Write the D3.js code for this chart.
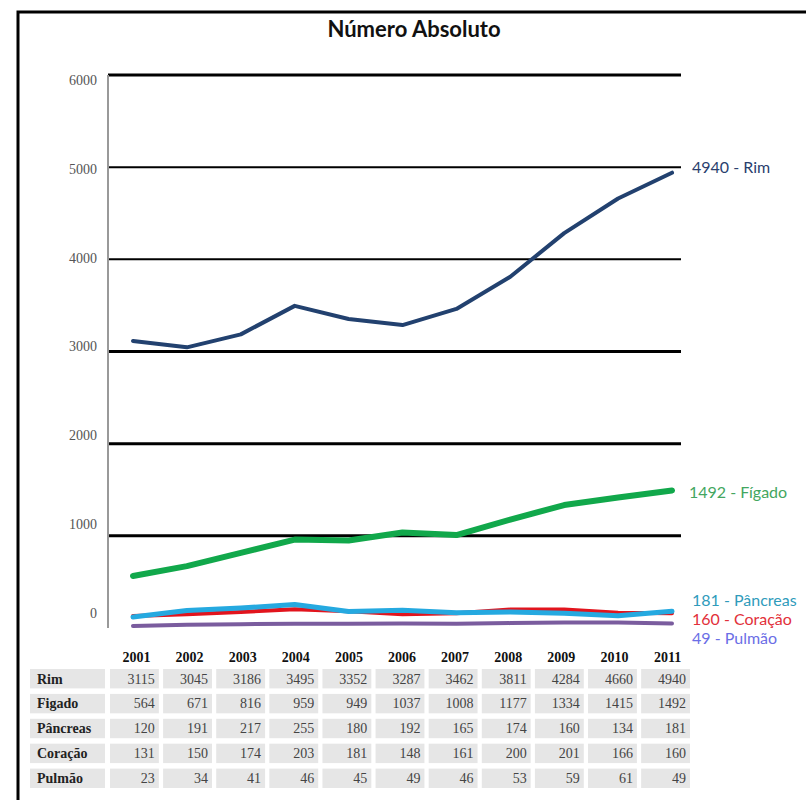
<!DOCTYPE html>
<html>
<head>
<meta charset="utf-8">
<script src="https://cdn.jsdelivr.net/npm/d3@7"></script>
<style>
  body { margin: 0; background: #fff; }
</style>
</head>
<body>
<div id="chart"></div>
<script>
const years = [2001, 2002, 2003, 2004, 2005, 2006, 2007, 2008, 2009, 2010, 2011];
const rim      = [3115, 3045, 3186, 3495, 3352, 3287, 3462, 3811, 4284, 4660, 4940];
const figado   = [564, 671, 816, 959, 949, 1037, 1008, 1177, 1334, 1415, 1492];
const pancreas = [120, 191, 217, 255, 180, 192, 165, 174, 160, 134, 181];
const coracao  = [131, 150, 174, 203, 181, 148, 161, 200, 201, 166, 160];
const pulmao   = [23, 34, 41, 46, 45, 49, 46, 53, 59, 61, 49];
const yTicks = [0, 1000, 2000, 3000, 4000, 5000, 6000];

const width = 806;
const height = 800;

const svg = d3.select("#chart")
  .append("svg")
    .attr("width", width)
    .attr("height", height);

// frame
svg.append("path")
  .attr("d", "M18,800 L18,12 L806,12")
  .attr("fill", "none")
  .attr("stroke", "#000")
  .attr("stroke-width", 3);

svg.append("text")
  .attr("x", 414)
  .attr("y", 37)
  .attr("text-anchor", "middle")
  .style("font-family", "Lato, 'Open Sans', sans-serif")
  .style("font-weight", "bold")
  .style("font-size", "22px")
  .attr("fill", "#111")
  .text("Número Absoluto");

const x = d3.scalePoint()
  .domain(years)
  .range([133, 672]);

const y = d3.scaleLinear()
  .domain([0, 6000])
  .range([628, 75]);

// tick labels sit on their own evenly spaced track in the original
const yLabel = d3.scaleLinear()
  .domain([0, 6000])
  .range([613, 80]);

// gridlines
svg.append("g")
  .selectAll("line")
  .data(yTicks.filter(d => d > 0))
  .enter()
  .append("line")
    .attr("x1", 108)
    .attr("x2", 681)
    .attr("y1", d => y(d))
    .attr("y2", d => y(d))
    .attr("stroke", "#000")
    .attr("stroke-width", d => (d === 4000 || d === 5000) ? 2 : 3);

// y axis line
svg.append("line")
  .attr("x1", 108).attr("x2", 108)
  .attr("y1", y(6000)).attr("y2", y(0))
  .attr("stroke", "#999")
  .attr("stroke-width", 2);

svg.append("g")
  .selectAll("text")
  .data(yTicks)
  .enter()
  .append("text")
    .attr("x", 97)
    .attr("y", d => yLabel(d))
    .attr("dy", "0.35em")
    .attr("text-anchor", "end")
    .style("font-family", "'Liberation Serif', serif")
    .style("font-size", "14px")
    .attr("fill", "#555")
    .text(d => d);

const series = [
  {name: "Rim",      values: rim,      color: "#22416f", width: 4, label: "#2a3f6e", ly: 167},
  {name: "Fígado",   values: figado,   color: "#11a84b", width: 6, label: "#43a660", ly: 492},
  {name: "Pulmão",   values: pulmao,   color: "#7a5c9e", width: 4, label: "#6b6ee6", ly: 638},
  {name: "Coração",  values: coracao,  color: "#e2141d", width: 4, label: "#e2303a", ly: 619},
  {name: "Pâncreas", values: pancreas, color: "#25a9e0", width: 5, label: "#2f9bbb", ly: 600}
];

const line = d3.line()
  .x((d, i) => x(years[i]))
  .y(d => y(d));

svg.append("g")
  .selectAll("path")
  .data(series)
  .enter()
  .append("path")
    .attr("d", d => line(d.values))
    .attr("fill", "none")
    .attr("stroke", d => d.color)
    .attr("stroke-width", d => d.width)
    .attr("stroke-linecap", "round")
    .attr("stroke-linejoin", "round");

svg.append("g")
  .selectAll("text")
  .data(series)
  .enter()
  .append("text")
    .attr("x", d => d.name === "Fígado" ? 689 : 692)
    .attr("y", d => d.ly)
    .attr("dy", "0.35em")
    .style("font-family", "Lato, 'Open Sans', sans-serif")
    .style("font-size", "16px")
    .attr("fill", d => d.label)
    .text(d => d.values[d.values.length - 1] + " - " + d.name);

// data table
const tableRows = [
  {name: "Rim",      values: rim},
  {name: "Figado",   values: figado},
  {name: "Pâncreas", values: pancreas},
  {name: "Coração",  values: coracao},
  {name: "Pulmão",   values: pulmao}
];

const col = d3.scaleBand()
  .domain(years)
  .range([110, 690])
  .paddingInner(0.08);

const row = d3.scaleBand()
  .domain(tableRows.map(d => d.name))
  .range([669, 788])
  .paddingInner(0.22);

const table = svg.append("g")
  .style("font-family", "'Liberation Serif', serif")
  .style("font-size", "14px")
  .attr("fill", "#444");

table.selectAll(".year")
  .data(years)
  .enter()
  .append("text")
    .attr("class", "year")
    .attr("x", d => col(d) + col.bandwidth() / 2 + 2)
    .attr("y", 657)
    .attr("dy", "0.35em")
    .attr("text-anchor", "middle")
    .style("font-weight", "bold")
    .attr("fill", "#111")
    .text(d => d);

const rowG = table.selectAll(".row")
  .data(tableRows)
  .enter()
  .append("g")
    .attr("class", "row")
    .attr("transform", d => "translate(0," + row(d.name) + ")");

rowG.append("rect")
  .attr("x", 30)
  .attr("width", 75)
  .attr("height", row.bandwidth())
  .attr("fill", "#e6e6e6");

rowG.append("text")
  .attr("x", 37)
  .attr("y", row.bandwidth() / 2)
  .attr("dy", "0.35em")
  .style("font-weight", "bold")
  .attr("fill", "#222")
  .text(d => d.name);

rowG.selectAll("rect.cell")
  .data(d => d.values)
  .enter()
  .append("rect")
    .attr("class", "cell")
    .attr("x", (d, i) => col(years[i]))
    .attr("width", col.bandwidth())
    .attr("height", row.bandwidth())
    .attr("fill", "#e6e6e6");

rowG.selectAll("text.val")
  .data(d => d.values)
  .enter()
  .append("text")
    .attr("class", "val")
    .attr("x", (d, i) => col(years[i]) + col.bandwidth() - 4)
    .attr("y", row.bandwidth() / 2)
    .attr("dy", "0.35em")
    .attr("text-anchor", "end")
    .text(d => d);
</script>
</body>
</html>
